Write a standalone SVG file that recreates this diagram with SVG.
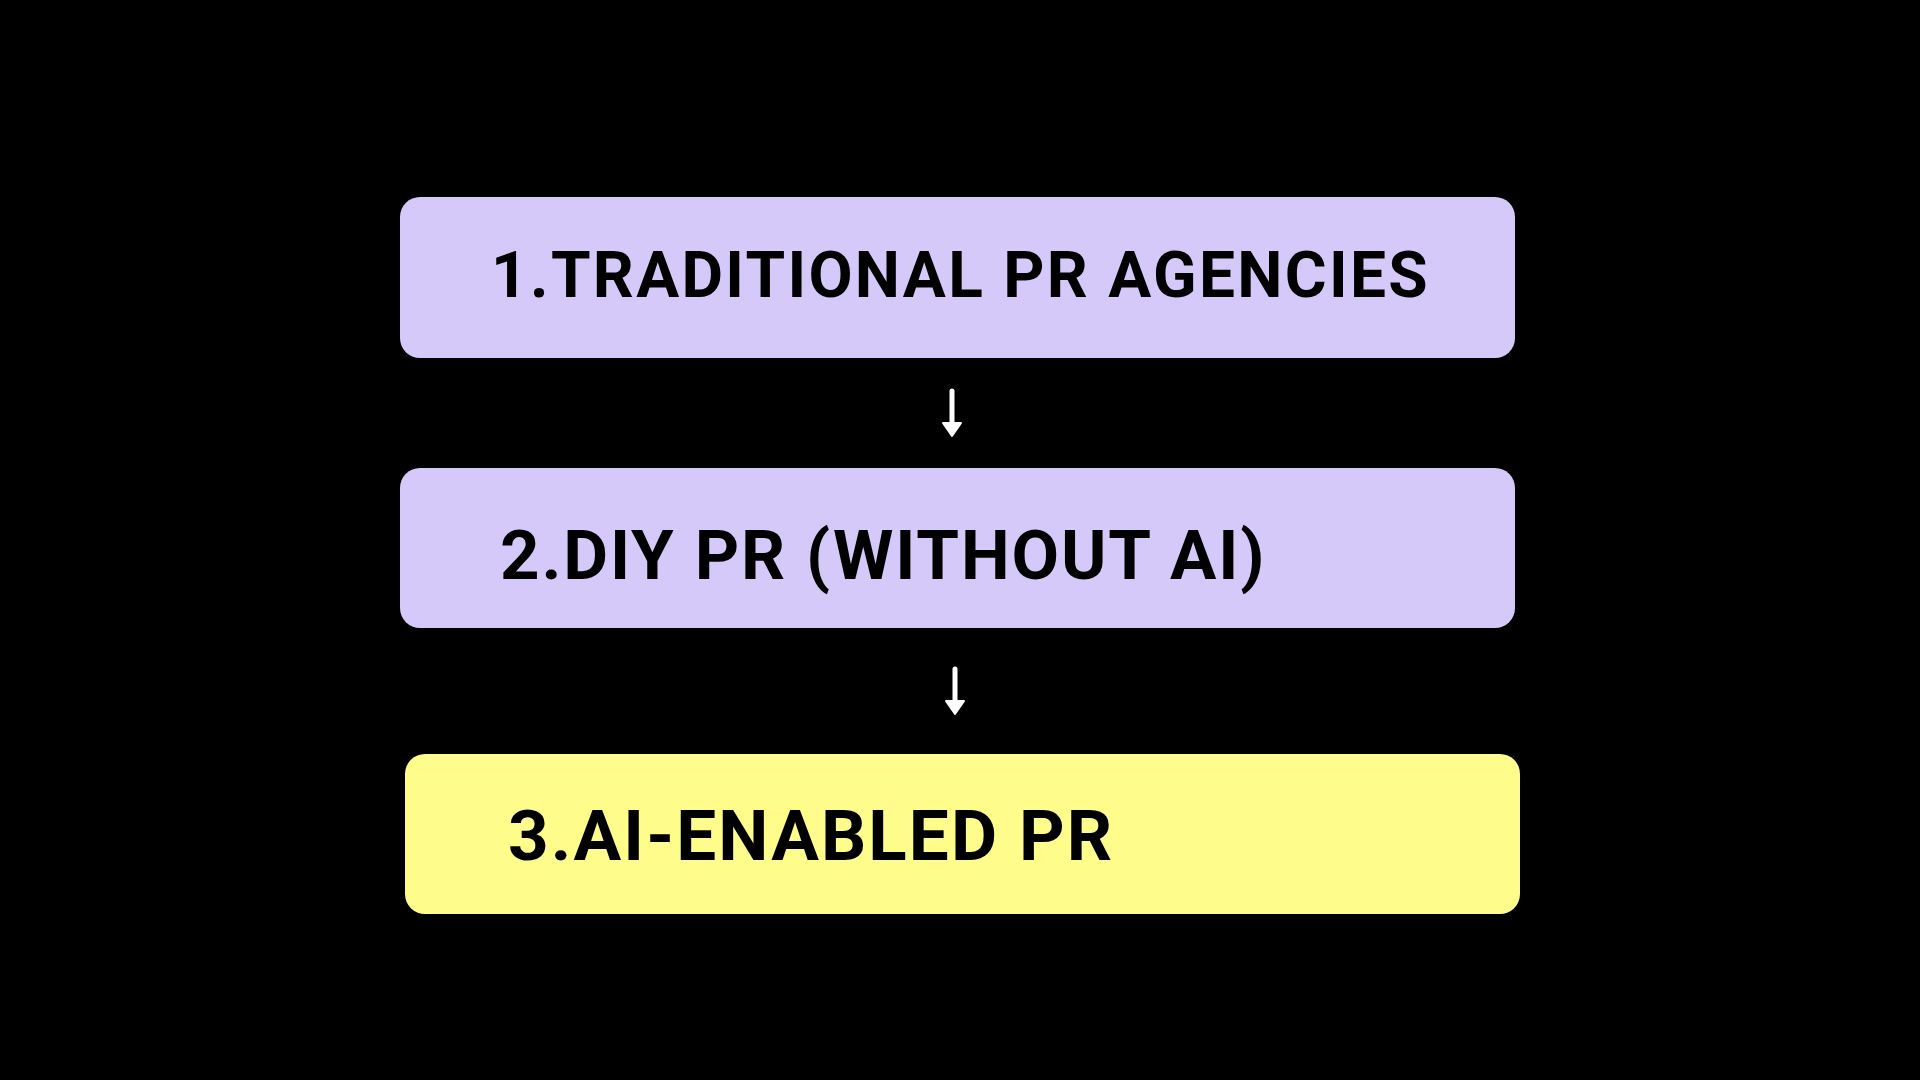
<svg xmlns="http://www.w3.org/2000/svg" width="1920" height="1080" viewBox="0 0 1920 1080">
<defs>
<style>
.box{stroke:none}
.lav{fill:#D5C9FA}
.yel{fill:#FEFC8B}
.lbl{font-family:Roboto,"Liberation Sans",sans-serif;font-weight:700;fill:#000}
.conn{stroke:#fff;stroke-width:5;stroke-linecap:round;fill:none}
.head{fill:#fff;stroke:#fff;stroke-width:2;stroke-linejoin:round}
</style>
</defs>
<rect width="1920" height="1080" fill="#000"/>
<g id="node1">
<rect class="box lav" x="400" y="197" width="1115" height="161" rx="20"/>
<text class="lbl" x="491" y="297" font-size="64" letter-spacing="2.3">1.TRADITIONAL PR AGENCIES</text>
</g>
<g id="node2">
<rect class="box lav" x="400" y="468" width="1115" height="160" rx="20"/>
<text class="lbl" x="500" y="579" font-size="69" letter-spacing="1.85">2.DIY PR (WITHOUT AI)</text>
</g>
<g id="node3">
<rect class="box yel" x="405" y="754" width="1115" height="160" rx="20"/>
<text class="lbl" x="508" y="860" font-size="71" letter-spacing="2.1">3.AI-ENABLED PR</text>
</g>
<g id="connectors">
<line class="conn" x1="952" y1="391" x2="952" y2="424"/>
<polygon class="head" points="943,423 961,423 952,436"/>
<line class="conn" x1="955" y1="669" x2="955" y2="702"/>
<polygon class="head" points="946,701 964,701 955,714"/>
</g>
</svg>
